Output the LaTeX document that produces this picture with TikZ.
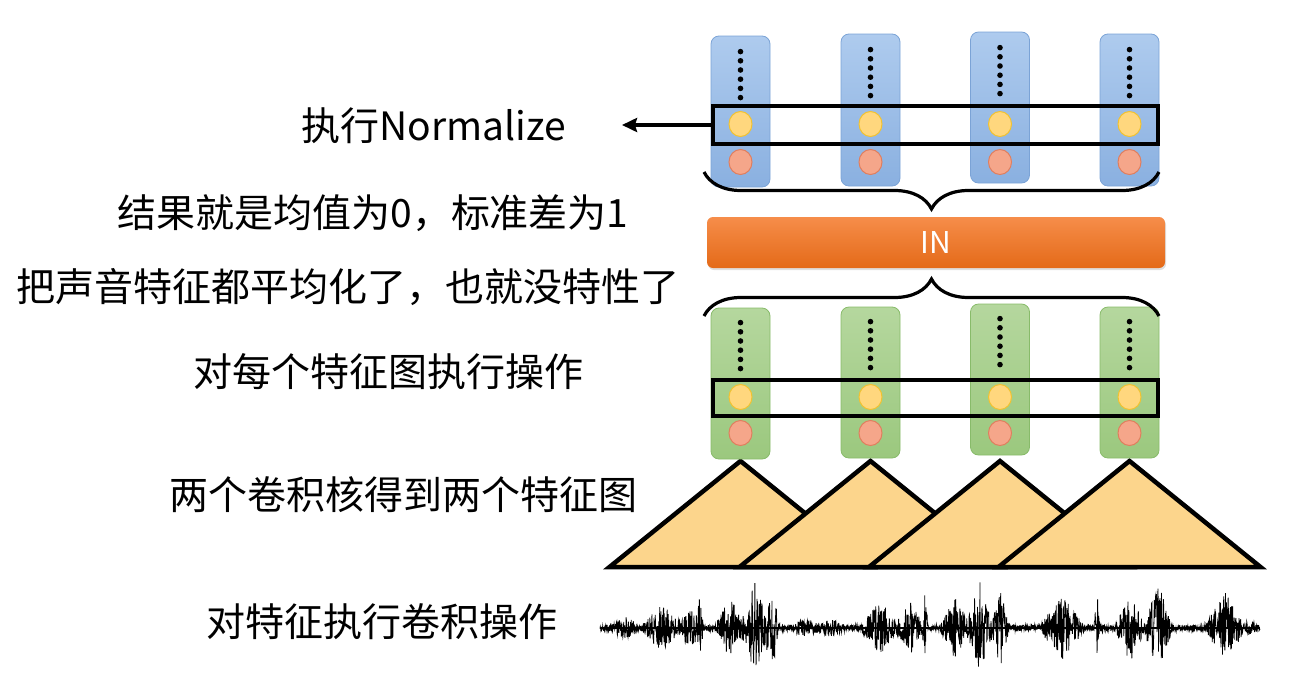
\documentclass[tikz,border=0pt]{standalone}
\usepackage{fontspec}
\setmainfont{Noto Sans CJK SC}
\usetikzlibrary{arrows.meta,decorations.pathreplacing,shadows,shapes.geometric}
\definecolor{bluetop}{HTML}{AECBEE}
\definecolor{bluebot}{HTML}{8AB0E0}
\definecolor{blueline}{HTML}{7BA3D6}
\definecolor{greentop}{HTML}{B5D79E}
\definecolor{greenbot}{HTML}{9BC87E}
\definecolor{greenline}{HTML}{88BB6A}
\definecolor{yelfill}{HTML}{FFD77E}
\definecolor{yelline}{HTML}{F2C230}
\definecolor{redfill}{HTML}{F5A68A}
\definecolor{redline}{HTML}{E07E5E}
\definecolor{intop}{HTML}{F68D4A}
\definecolor{inbot}{HTML}{E46A18}
\definecolor{trifill}{HTML}{FCD58C}
\begin{document}
\begin{tikzpicture}[x=1pt,y=-1pt,
  bluecol/.style={rounded corners=8pt,top color=bluetop,bottom color=bluebot,draw=blueline,line width=0.8pt,minimum width=59pt},
  greencol/.style={rounded corners=8pt,top color=greentop,bottom color=greenbot,draw=greenline,line width=0.8pt,minimum width=59pt},
  yel/.style={ellipse,fill=yelfill,draw=yelline,line width=1pt,minimum width=23pt,minimum height=25pt,inner sep=0pt},
  red/.style={ellipse,fill=redfill,draw=redline,line width=1pt,minimum width=23pt,minimum height=25pt,inner sep=0pt},
  dotc/.style={circle,fill=black,inner sep=0pt,minimum size=5.6pt},
  selbox/.style={draw=black,line width=4.8pt,minimum width=445pt,inner sep=0pt},
  lbl/.style={font=\fontsize{39pt}{46pt}\selectfont,inner sep=0pt,anchor=center},
  brc/.style={decorate,decoration={brace,amplitude=37pt},line width=3.2pt},
  tri/.style={fill=trifill,draw=black,line width=4.5pt,line join=miter},
  wave/.style={line width=0.8pt},
  declare function={
    bp(\x,\c,\w)=max(0,1-abs(\x-\c)/\w);
    env(\x)=3+9*bp(\x,625,15)+22*bp(\x,662,20)+18*bp(\x,690,14)+34*bp(\x,700,3)
      +28*bp(\x,730,15)+44*bp(\x,755,14)+40*bp(\x,772,8)+7*bp(\x,805,15)+7*bp(\x,830,15)
      +24*bp(\x,880,20)+24*bp(\x,910,14)+36*bp(\x,925,3)+28*bp(\x,955,15)+45*bp(\x,980,14)
      +38*bp(\x,1000,9)+30*bp(\x,1062,22)+36*bp(\x,1097,3)+32*bp(\x,1130,15)+45*bp(\x,1158,14)
      +33*bp(\x,1225,20)+5*bp(\x,1250,8);
  }]
\useasboundingbox (0,0) rectangle (1310,683);
\pgfmathsetseed{7}

% waveform
\draw[line width=2pt] (600,628) coordinate (w0) -- (1260,628) coordinate (w1);
\draw[wave] plot[domain=600:1260,samples=2200,variable=\t] (\t,{628+env(\t)*rand});

% triangles (kernels)
\foreach \cx/\n in {740.5/1,870.5/2,1000/3,1129.5/4}{
  \coordinate (ta\n) at (\cx,461);
  \coordinate (tl\n) at (\cx-131,567);
  \coordinate (tr\n) at (\cx+131,567);
  \filldraw[tri] (tl\n) -- (ta\n) -- (tr\n) -- cycle;
}

% green columns
\node[greencol,minimum height=151pt] (g1) at (740.5,383.5) {};
\node[greencol,minimum height=151pt] (g2) at (870.5,382.5) {};
\node[greencol,minimum height=151pt] (g3) at (1000,379.5) {};
\node[greencol,minimum height=151pt] (g4) at (1129.5,382.5) {};
\foreach \n in {1,2,3,4}{
  \path (g\n.north) ++(0,15) node[dotc] (gd\n a) {}
        ++(0,9.2) node[dotc] (gd\n b) {} ++(0,9.2) node[dotc] (gd\n c) {}
        ++(0,9.2) node[dotc] (gd\n d) {} ++(0,9.2) node[dotc] (gd\n e) {}
        ++(0,9.2) node[dotc] (gd\n f) {};
  \node[yel] (gy\n) at (g\n.center |- 0,397) {};
  \node[red] (gr\n) at (g\n.center |- 0,433) {};
}
\node[selbox,minimum height=36pt] (boxg) at (935.5,398) {};

% blue columns
\node[bluecol,minimum height=151pt] (b1) at (740.5,111.5) {};
\node[bluecol,minimum height=152pt] (b2) at (870.5,110) {};
\node[bluecol,minimum height=151pt] (b3) at (1000,107.5) {};
\node[bluecol,minimum height=152pt] (b4) at (1129.5,110) {};
\foreach \n in {1,2,3,4}{
  \path (b\n.north) ++(0,16) node[dotc] (bd\n a) {}
        ++(0,9.2) node[dotc] (bd\n b) {} ++(0,9.2) node[dotc] (bd\n c) {}
        ++(0,9.2) node[dotc] (bd\n d) {} ++(0,9.2) node[dotc] (bd\n e) {}
        ++(0,9.2) node[dotc] (bd\n f) {};
  \node[yel] (by\n) at (b\n.center |- 0,124) {};
  \node[red] (br\n) at (b\n.center |- 0,162) {};
}
\node[selbox,minimum height=38pt] (boxb) at (935.5,125) {};

% IN bar
\node[rounded corners=6pt,top color=intop,bottom color=inbot,minimum width=458pt,minimum height=51pt,
      drop shadow={opacity=0.25,shadow xshift=1pt,shadow yshift=-2pt},
      text=white,font=\fontsize{30pt}{36pt}\selectfont] (IN) at (936,242.5) {IN};

% braces
\coordinate (brTr) at (1159,172);
\coordinate (brTl) at (704,172);
\draw[brc] (brTr) -- (brTl);
\coordinate (brBl) at (704,316);
\coordinate (brBr) at (1159,316);
\draw[brc] (brBl) -- (brBr);

% arrow
\coordinate (arrEnd) at (622,125);
\draw[line width=3.5pt,-{Stealth[length=15pt,width=14pt,inset=2pt]}] (boxb.west) -- (arrEnd);

% labels
\node[lbl] (t1) at (434,126) {执行Normalize};
\node[lbl] (t2) at (373,213) {结果就是均值为0，标准差为1};
\node[lbl] (t3) at (348,287) {把声音特征都平均化了，也就没特性了};
\node[lbl] (t4) at (388,372) {对每个特征图执行操作};
\node[lbl] (t5) at (403,495) {两个卷积核得到两个特征图};
\node[lbl] (t6) at (382,622) {对特征执行卷积操作};
\end{tikzpicture}
\end{document}
